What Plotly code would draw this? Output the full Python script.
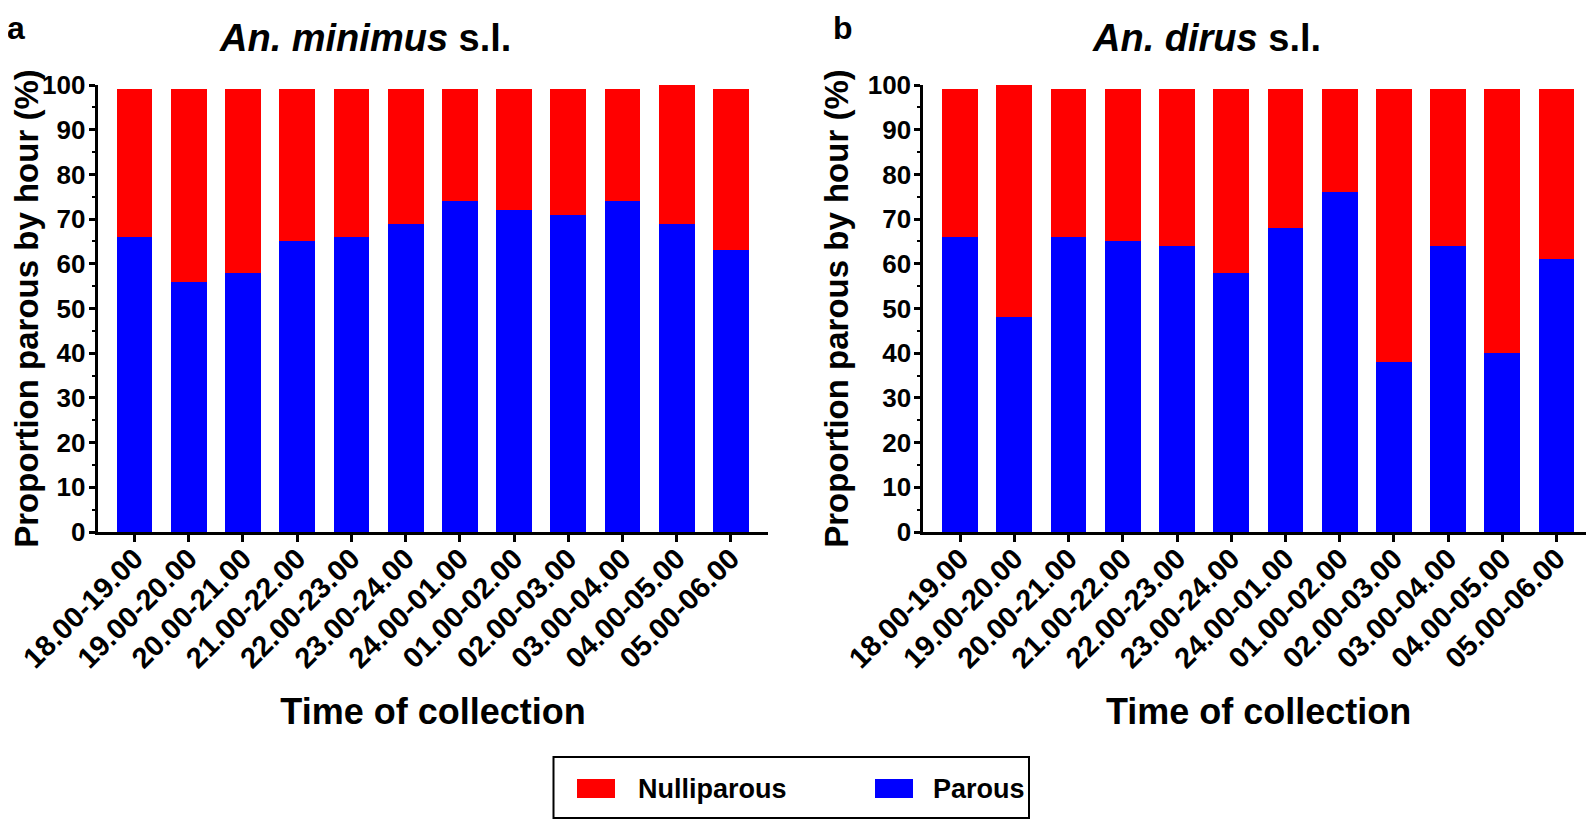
import plotly.graph_objects as go

categories = ["18.00-19.00", "19.00-20.00", "20.00-21.00", "21.00-22.00", "22.00-23.00",
              "23.00-24.00", "24.00-01.00", "01.00-02.00", "02.00-03.00", "03.00-04.00",
              "04.00-05.00", "05.00-06.00"]

minimus_parous = [66, 56, 58, 65, 66, 69, 74, 72, 71, 74, 69, 63]
minimus_nulliparous = [33, 43, 41, 34, 33, 30, 25, 27, 28, 25, 31, 36]

dirus_parous = [66, 48, 66, 65, 64, 58, 68, 76, 38, 64, 40, 61]
dirus_nulliparous = [33, 52, 33, 34, 35, 41, 31, 23, 61, 35, 59, 38]

y_ticks = [0, 10, 20, 30, 40, 50, 60, 70, 80, 90, 100]
legend_names = ["Nulliparous", "Parous"]

RED = "#FF0000"
BLUE = "#0000FF"
FONT = "Liberation Sans, Arial, sans-serif"

W, H = 1594, 820
OFF = 8  # page body offset
MT, MB = 77, 296
plot_h = H - MT - MB

fig = go.Figure()

for i, (par, nul) in enumerate([(minimus_parous, minimus_nulliparous),
                                (dirus_parous, dirus_nulliparous)]):
    xa = "x" if i == 0 else "x2"
    ya = "y" if i == 0 else "y2"
    fig.add_trace(go.Bar(x=categories, y=par, name="Parous", marker_color=BLUE,
                         marker_line_width=0, xaxis=xa, yaxis=ya, showlegend=False))
    fig.add_trace(go.Bar(x=categories, y=nul, name="Nulliparous", marker_color=RED,
                         marker_line_width=0, xaxis=xa, yaxis=ya, showlegend=False))


def px_x(p):
    return (p - OFF) / W


def px_y(p):
    return (H - MB - (p - OFF)) / plot_h


xcommon = dict(
    type="category", range=[-0.68, 11.69], showline=True, linewidth=3, linecolor="black",
    ticks="outside", ticklen=7, tickwidth=2.5, tickcolor="black", tickangle=-45,
    ticklabelstandoff=-12,
    tickfont=dict(family=FONT, size=29, color="black", weight="bold"),
    showgrid=False, zeroline=False, automargin=False,
    title=dict(text="Time of collection", standoff=26,
               font=dict(family=FONT, size=36, color="black", weight="bold")),
)
ycommon = dict(
    range=[0, 100], tickvals=y_ticks, showline=True, linewidth=3, linecolor="black",
    ticks="outside", ticklen=6, tickwidth=2.5, tickcolor="black", ticklabelstandoff=-2,
    minor=dict(dtick=5, ticks="outside", ticklen=3, tickwidth=2, tickcolor="black"),
    tickfont=dict(family=FONT, size=26, color="black", weight="bold"),
    showgrid=False, zeroline=False, automargin=False,
    title=dict(text="Proportion parous by hour (%)", standoff=10,
               font=dict(family=FONT, size=33, color="black", weight="bold")),
)

fig.update_layout(
    width=W, height=H,
    margin=dict(l=0, r=0, t=MT, b=MB, autoexpand=False),
    plot_bgcolor="white", paper_bgcolor="white",
    barmode="stack", bargap=0.34,
    xaxis=dict(domain=[px_x(97.7), px_x(768.3)], anchor="y", **xcommon),
    yaxis=dict(domain=[0, 1], anchor="x", **ycommon),
    xaxis2=dict(domain=[px_x(923.3), px_x(1594)], anchor="y2", **xcommon),
    yaxis2=dict(domain=[0, 1], anchor="x2", **ycommon),
    showlegend=False,
)

# titles
for text, xp in [("<b><i>An. minimus</i> s.l.</b>", 365), ("<b><i>An. dirus</i> s.l.</b>", 1206)]:
    fig.add_annotation(text=text, xref="paper", yref="paper", x=px_x(xp), y=px_y(38),
                       showarrow=False, xanchor="center", yanchor="middle",
                       font=dict(family=FONT, size=38, color="black"))

# panel letters
for lbl, xp in [("a", 16), ("b", 843)]:
    fig.add_annotation(text=f"<b>{lbl}</b>", xref="paper", yref="paper", x=px_x(xp), y=px_y(28),
                       showarrow=False, xanchor="center", yanchor="middle",
                       font=dict(family=FONT, size=32, color="black"))

# legend box (drawn)
fig.add_shape(type="rect", xref="paper", yref="paper",
              x0=px_x(553.5), x1=px_x(1029), y0=px_y(757), y1=px_y(818),
              line=dict(color="black", width=2), fillcolor="white", layer="above")
for name, color, sx, tx in [(legend_names[0], RED, 577, 636), (legend_names[1], BLUE, 875, 931)]:
    fig.add_shape(type="rect", xref="paper", yref="paper",
                  x0=px_x(sx), x1=px_x(sx + 38), y0=px_y(779), y1=px_y(798),
                  line=dict(width=0), fillcolor=color, layer="above")
    fig.add_annotation(text=f"<b>{name}</b>", xref="paper", yref="paper", x=px_x(tx),
                       y=px_y(789), showarrow=False, xanchor="left", yanchor="middle",
                       font=dict(family=FONT, size=27, color="black"))

fig.write_html("out.html")
